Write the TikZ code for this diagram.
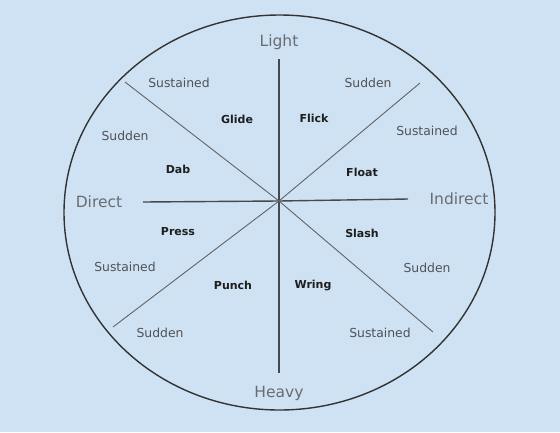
\documentclass[tikz,border=0pt]{standalone}
\usepackage{fontspec}
\setmainfont{DejaVu Sans}
\usetikzlibrary{shapes.geometric}
\definecolor{bg}{RGB}{207,226,243}
\definecolor{axistext}{RGB}{105,108,112}
\definecolor{smalltext}{RGB}{80,82,86}
\definecolor{boldtext}{RGB}{30,30,30}
\definecolor{linecol}{RGB}{70,72,75}
\begin{document}
\begin{tikzpicture}[x=1pt,y=-1pt,
  axislabel/.style={font=\fontsize{15.5}{18}\selectfont, text=axistext, inner sep=0pt},
  effort/.style={font=\fontsize{12.4}{14}\selectfont, text=smalltext, inner sep=0pt},
  action/.style={font=\fontsize{11}{13}\bfseries\selectfont, text=boldtext, inner sep=0pt},
  mainline/.style={draw=linecol, line width=1.4pt},
  diag/.style={draw=linecol!85, line width=0.9pt},
  rim/.style={draw=black!80, line width=1.4pt}]
\useasboundingbox (0,0) rectangle (560,432);
\fill[bg] (0,0) rectangle (560,432);
\node[rim, ellipse, minimum width=431pt, minimum height=395pt, inner sep=0pt] (rimshape) at (279.5,212.5) {};
% coordinates
\coordinate (C) at (279,201);
\coordinate (T) at (279,59);
\coordinate (B) at (279,373);
\coordinate (L) at (143,202);
\coordinate (R) at (408,199);
\coordinate (UL) at (125,82);
\coordinate (UR) at (420,83);
\coordinate (LL) at (113,327);
\coordinate (LR) at (433,332);
\draw[mainline] (C) -- (T);
\draw[mainline] (C) -- (B);
\draw[mainline] (C) -- (L);
\draw[mainline] (C) -- (R);
\draw[diag] (C) -- (UL);
\draw[diag] (C) -- (UR);
\draw[diag] (C) -- (LL);
\draw[diag] (C) -- (LR);
% axis labels
\node[axislabel] (light) at (279,42) {Light};
\node[axislabel] (heavy) at (279,393) {Heavy};
\node[axislabel] (direct) at (99,202) {Direct};
\node[axislabel] (indirect) at (459,199) {Indirect};
% effort labels
\node[effort] (s1) at (179,83) {Sustained};
\node[effort] (s2) at (368,83) {Sudden};
\node[effort] (s3) at (125,136) {Sudden};
\node[effort] (s4) at (427,131) {Sustained};
\node[effort] (s5) at (125,267) {Sustained};
\node[effort] (s6) at (427,268) {Sudden};
\node[effort] (s7) at (160,333) {Sudden};
\node[effort] (s8) at (380,333) {Sustained};
% actions
\node[action] (glide) at (237,119) {Glide};
\node[action] (flick) at (314,118) {Flick};
\node[action] (dab) at (178,169) {Dab};
\node[action] (float) at (362,172) {Float};
\node[action] (press) at (178,232) {Press};
\node[action] (slash) at (362,233) {Slash};
\node[action] (punch) at (233,285) {Punch};
\node[action] (wring) at (313,286) {Wring};
\end{tikzpicture}
\end{document}
